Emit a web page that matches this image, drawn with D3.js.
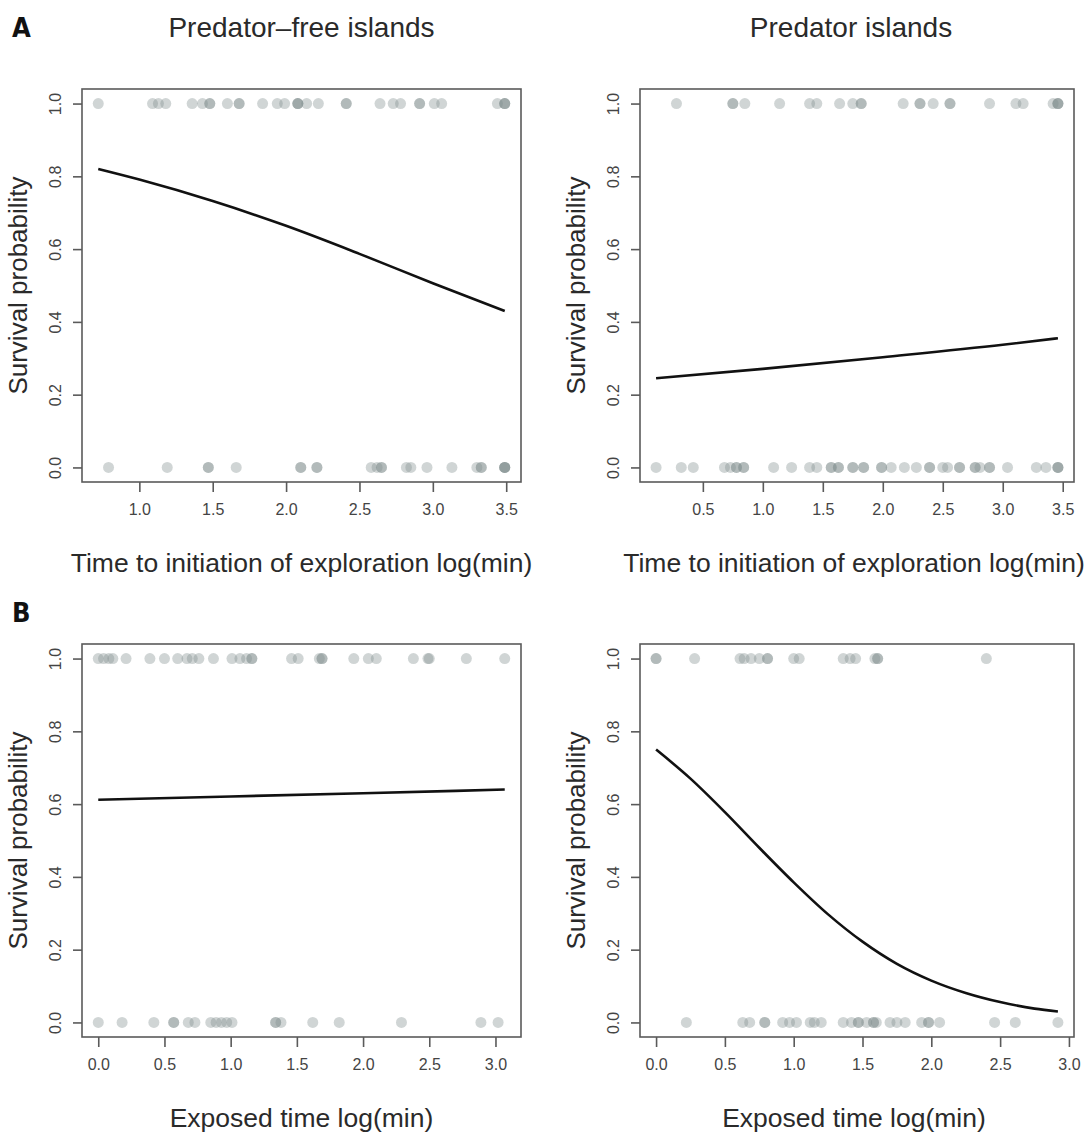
<!DOCTYPE html>
<html>
<head>
<meta charset="utf-8">
<title>Survival probability</title>
<script src="https://cdn.jsdelivr.net/npm/d3@7"></script>
<style>
  html, body { margin: 0; padding: 0; background: #fff; overflow: hidden; }
  text { font-family: "Liberation Sans", Arial, sans-serif; }
</style>
</head>
<body>
<div id="fig"></div>
<script>
// ---- data (x in log(min), survived = 1, died = 0) ----

// A, predator-free islands
var aFreeSurvived = [0.72, 1.09, 1.13, 1.18, 1.36, 1.43, 1.48, 1.48, 1.60, 1.68, 1.68, 1.84, 1.94, 1.99, 2.08, 2.08, 2.08,
                     2.14, 2.22, 2.41, 2.41, 2.64, 2.73, 2.78, 2.91, 2.91, 3.01, 3.06, 3.44, 3.49, 3.49, 3.49];
var aFreeDied = [0.79, 1.19, 1.47, 1.47, 1.66, 2.10, 2.10, 2.21, 2.21, 2.58, 2.62, 2.65, 2.65, 2.82, 2.85, 2.96, 3.13,
                 3.30, 3.33, 3.33, 3.49, 3.49, 3.49, 3.49];
var aFreeFitX = [0.72, 1.0, 1.5, 2.0, 2.5, 3.0, 3.49];
var aFreeFitY = [0.82, 0.791, 0.732, 0.664, 0.587, 0.506, 0.43];

// A, predator islands
var aPredSurvived = [0.28, 0.75, 0.75, 0.85, 1.14, 1.39, 1.45, 1.64, 1.75, 1.82, 1.82, 2.17, 2.31, 2.31, 2.42, 2.56, 2.56,
                     2.89, 3.11, 3.17, 3.42, 3.46, 3.46, 3.46];
var aPredDied = [0.11, 0.32, 0.42, 0.68, 0.73, 0.78, 0.78, 0.84, 0.84, 1.09, 1.24, 1.39, 1.45, 1.57, 1.57, 1.63, 1.63,
                 1.75, 1.75, 1.84, 1.84, 1.99, 1.99, 2.07, 2.18, 2.28, 2.39, 2.39, 2.50, 2.54, 2.64, 2.64, 2.77, 2.77,
                 2.81, 2.89, 2.89, 3.04, 3.28, 3.36, 3.46, 3.46, 3.46];
var aPredFitX = [0.11, 1.0, 2.0, 3.0, 3.46];
var aPredFitY = [0.245, 0.271, 0.303, 0.337, 0.355];

// B, predator-free islands
var bFreeSurvived = [0.00, 0.04, 0.08, 0.11, 0.21, 0.39, 0.50, 0.60, 0.67, 0.71, 0.76, 0.87, 1.01, 1.07, 1.12, 1.16,
                     1.16, 1.46, 1.51, 1.67, 1.69, 1.69, 1.93, 2.04, 2.10, 2.38, 2.49, 2.50, 2.78, 3.07];
var bFreeDied = [0.00, 0.18, 0.42, 0.57, 0.57, 0.68, 0.73, 0.85, 0.89, 0.93, 0.97, 1.01, 1.34, 1.34, 1.38, 1.62, 1.82,
                 2.29, 2.89, 3.02];
var bFreeFitX = [0.0, 1.0, 2.0, 3.07];
var bFreeFitY = [0.612, 0.621, 0.63, 0.64];

// B, predator islands
var bPredSurvived = [0.00, 0.00, 0.28, 0.61, 0.64, 0.69, 0.75, 0.81, 0.81, 1.00, 1.04, 1.36, 1.41, 1.45, 1.59, 1.61,
                     1.61, 2.40];
var bPredDied = [0.22, 0.63, 0.68, 0.79, 0.79, 0.92, 0.97, 1.02, 1.12, 1.15, 1.20, 1.36, 1.42, 1.47, 1.47, 1.53, 1.58,
                 1.58, 1.60, 1.70, 1.75, 1.81, 1.93, 1.98, 1.98, 2.06, 2.46, 2.61, 2.92];
var bPredFitX = [0, 0.25, 0.5, 0.75, 1.0, 1.25, 1.5, 1.75, 2.0, 2.25, 2.5, 2.75, 2.92];
var bPredFitY = [0.75, 0.67, 0.578, 0.48, 0.385, 0.297, 0.222, 0.161, 0.115, 0.081, 0.056, 0.038, 0.03];

// tick labels
var xTicksAFree = [1.0, 1.5, 2.0, 2.5, 3.0, 3.5];
var xTicksAPred = [0.5, 1.0, 1.5, 2.0, 2.5, 3.0, 3.5];
var xTicksB = [0.0, 0.5, 1.0, 1.5, 2.0, 2.5, 3.0];
var yTicks = [0.0, 0.2, 0.4, 0.6, 0.8, 1.0];

var colTitles = ["Predator\u2013free islands", "Predator islands"];
var xTitleA = "Time to initiation of exploration log(min)";
var xTitleB = "Exposed time log(min)";
var yTitle = "Survival probability";

// ---- layout ----
var width = 1092, height = 1135;
var boxW = [439, 434], boxLeft = [82, 640];
var rowTop = [89, 644], boxH = 393;

var svg = d3.select("#fig")
    .append("svg")
        .attr("width", width)
        .attr("height", height);

var panels = [
    {row: 0, col: 0, surv: aFreeSurvived, died: aFreeDied, fx: aFreeFitX, fy: aFreeFitY, ticks: xTicksAFree, xTitle: xTitleA},
    {row: 0, col: 1, surv: aPredSurvived, died: aPredDied, fx: aPredFitX, fy: aPredFitY, ticks: xTicksAPred, xTitle: xTitleA},
    {row: 1, col: 0, surv: bFreeSurvived, died: bFreeDied, fx: bFreeFitX, fy: bFreeFitY, ticks: xTicksB, xTitle: xTitleB},
    {row: 1, col: 1, surv: bPredSurvived, died: bPredDied, fx: bPredFitX, fy: bPredFitY, ticks: xTicksB, xTitle: xTitleB}
];

// R style: data range padded by 4% on each side
function padded(ext) {
    var d = (ext[1] - ext[0]) * 0.04;
    return [ext[0] - d, ext[1] + d];
}

panels.forEach(function(p) {
    var left = boxLeft[p.col], top = rowTop[p.row], w = boxW[p.col], h = boxH;
    var g = svg.append("g").attr("transform", "translate(" + left + "," + top + ")");

    var x = d3.scaleLinear()
        .domain(padded(d3.extent(p.surv.concat(p.died))))
        .range([0, w]);
    var y = d3.scaleLinear()
        .domain(padded([0, 1]))
        .range([h, 0]);

    // points
    var pts = p.surv.map(function(v) { return [v, 1]; })
        .concat(p.died.map(function(v) { return [v, 0]; }));
    g.selectAll("circle.pt")
        .data(pts)
        .enter()
        .append("circle")
            .attr("class", "pt")
            .attr("cx", function(d) { return x(d[0]); })
            .attr("cy", function(d) { return y(d[1]); })
            .attr("r", 5.5)
            .attr("fill", "#7d8a8a")
            .attr("fill-opacity", 0.36);

    // fitted curve
    var line = d3.line()
        .x(function(d) { return x(d[0]); })
        .y(function(d) { return y(d[1]); })
        .curve(d3.curveMonotoneX);
    g.append("path")
        .datum(p.fx.map(function(v, i) { return [v, p.fy[i]]; }))
        .attr("d", line)
        .attr("fill", "none")
        .attr("stroke", "#111")
        .attr("stroke-width", 2.6);

    // box
    g.append("rect")
        .attr("width", w).attr("height", h)
        .attr("fill", "none")
        .attr("stroke", "#5a5a5a")
        .attr("stroke-width", 1.6);

    // x axis
    var xa = g.append("g")
        .attr("transform", "translate(0," + h + ")")
        .call(d3.axisBottom(x).tickValues(p.ticks).tickFormat(d3.format(".1f")).tickSize(10).tickPadding(12));
    xa.select(".domain").remove();

    // y axis
    var ya = g.append("g")
        .call(d3.axisLeft(y).tickValues(yTicks).tickFormat(d3.format(".1f")).tickSize(9));
    ya.select(".domain").remove();
    ya.selectAll(".tick text")
        .attr("x", 0).attr("dy", 0)
        .attr("text-anchor", "middle")
        .attr("transform", "translate(-27,0) rotate(-90)")
        .attr("dominant-baseline", "central");

    g.selectAll(".tick line").attr("stroke", "#5a5a5a").attr("stroke-width", 1.6);
    g.selectAll(".tick text")
        .attr("fill", "#444")
        .style("font-size", "16px")
        .style("font-family", "'Liberation Sans', Arial, sans-serif");

    // axis titles
    g.append("text")
        .attr("x", w / 2 - (p.col === 1 ? 3 : 0))
        .attr("y", h + 90)
        .attr("text-anchor", "middle")
        .attr("fill", "#2a2a2a")
        .style("font-size", "26.5px")
        .text(p.xTitle);
    g.append("text")
        .attr("transform", "translate(" + (-55) + "," + (h / 2) + ") rotate(-90)")
        .attr("text-anchor", "middle")
        .attr("fill", "#2a2a2a")
        .style("font-size", "26px")
        .text(yTitle);
});

// column titles
colTitles.forEach(function(t, i) {
    svg.append("text")
        .attr("x", boxLeft[i] + boxW[i] / 2 - (i === 1 ? 6 : 0))
        .attr("y", 37)
        .attr("text-anchor", "middle")
        .attr("fill", "#2a2a2a")
        .style("font-size", "28px")
        .text(t);
});

// panel letters
[["A", 37], ["B", 622]].forEach(function(d) {
    svg.append("text")
        .attr("x", 12)
        .attr("y", d[1])
        .attr("fill", "#111")
        .style("font-family", "'Liberation Sans Narrow', 'DejaVu Sans Condensed', sans-serif")
        .style("font-weight", "bold")
        .style("font-size", "27px")
        .text(d[0]);
});
</script>
</body>
</html>
